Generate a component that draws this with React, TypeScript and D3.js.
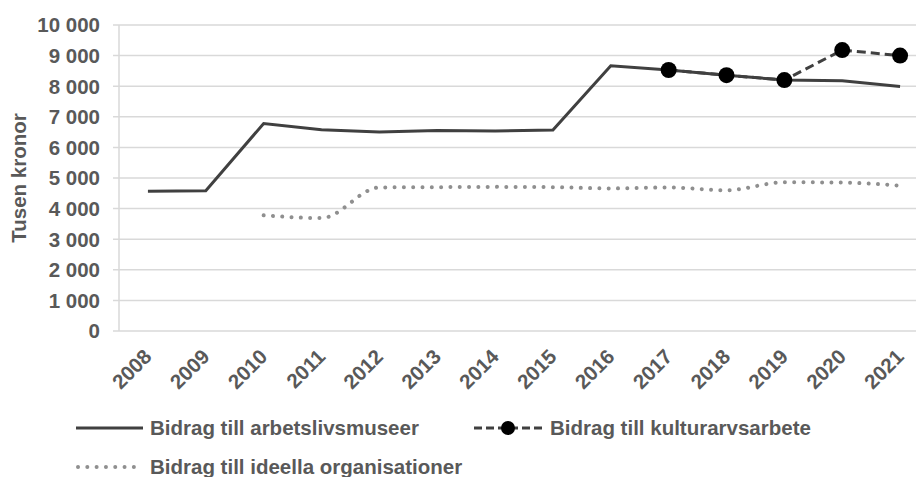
import React, { useEffect, useRef } from 'react';
import * as d3 from 'd3';

const years = ['2008', '2009', '2010', '2011', '2012', '2013', '2014', '2015', '2016', '2017', '2018', '2019', '2020', '2021'];
const arbetsliv = [4570, 4580, 6780, 6580, 6500, 6550, 6540, 6570, 8670, 8530, 8360, 8200, 8180, 7990];
const kulturarv = [null, null, null, null, null, null, null, null, null, 8530, 8360, 8200, 9180, 9000];
const ideella = [null, null, 3780, 3690, 4690, 4700, 4710, 4700, 4660, 4690, 4600, 4860, 4850, 4750];
const yTicks = [0, 1000, 2000, 3000, 4000, 5000, 6000, 7000, 8000, 9000, 10000];
const legendLabels = ['Bidrag till arbetslivsmuseer', 'Bidrag till kulturarvsarbete', 'Bidrag till ideella organisationer'];

type Pt = { year: string; v: number };

const App = () => {
  const ref = useRef<SVGSVGElement>(null);

  useEffect(() => {
    const svg = d3.select(ref.current);
    svg.selectAll('*').remove();

    const width = 916;
    const font = 'Liberation Sans, Arial, sans-serif';
    const fontSize = 20.5;
    const textColor = '#595959';
    const gridColor = '#d9d9d9';

    const x = d3.scalePoint<string>().domain(years).range([119, 929]).padding(0.5);
    const y = d3.scaleLinear().domain([0, 10000]).range([331, 25]);

    // gridlines + axis line
    svg
      .append('g')
      .selectAll('line')
      .data(yTicks)
      .join('line')
      .attr('x1', 113)
      .attr('x2', width)
      .attr('y1', (d) => y(d))
      .attr('y2', (d) => y(d))
      .attr('stroke', gridColor)
      .attr('stroke-width', 1.5);

    svg
      .append('line')
      .attr('x1', 119)
      .attr('x2', 119)
      .attr('y1', y(10000))
      .attr('y2', y(0))
      .attr('stroke', gridColor)
      .attr('stroke-width', 1.5);

    const styleText = (sel: any) =>
      sel.attr('font-family', font).attr('font-weight', 'bold').attr('font-size', fontSize).attr('fill', textColor);

    // y tick labels
    svg
      .append('g')
      .selectAll('text')
      .data(yTicks)
      .join('text')
      .attr('x', 100)
      .attr('y', (d) => y(d))
      .attr('dy', '0.36em')
      .attr('text-anchor', 'end')
      .call(styleText)
      .text((d) => d3.format(',')(d).replace(/,/g, ' '));

    // x tick labels
    svg
      .append('g')
      .selectAll('text')
      .data(years)
      .join('text')
      .attr('transform', (d) => `translate(${(x(d) as number) + 5}, 358) rotate(-45)`)
      .attr('text-anchor', 'end')
      .call(styleText)
      .text((d) => d);

    // y title
    svg
      .append('text')
      .attr('transform', `translate(26, ${(y(0) + y(10000)) / 2}) rotate(-90)`)
      .attr('text-anchor', 'middle')
      .call(styleText)
      .text('Tusen kronor');

    const pts = (vals: (number | null)[]) =>
      vals.map((v, i) => ({ year: years[i], v })).filter((d) => d.v !== null) as Pt[];

    const line = d3
      .line<Pt>()
      .x((d) => x(d.year) as number)
      .y((d) => y(d.v));

    // ideella (smoothed, dotted)
    svg
      .append('path')
      .attr('d', d3.line<Pt>().x((d) => x(d.year) as number).y((d) => y(d.v)).curve(d3.curveMonotoneX)(pts(ideella)))
      .attr('fill', 'none')
      .attr('stroke', '#8f8f8f')
      .attr('stroke-width', 4)
      .attr('stroke-linecap', 'round')
      .attr('stroke-dasharray', '0.01 9.3');

    // arbetsliv (solid)
    svg
      .append('path')
      .attr('d', line(pts(arbetsliv)))
      .attr('fill', 'none')
      .attr('stroke', '#404040')
      .attr('stroke-width', 3);

    // kulturarv (dashed with markers)
    const kult = pts(kulturarv);
    svg
      .append('path')
      .attr('d', line(kult))
      .attr('fill', 'none')
      .attr('stroke', '#404040')
      .attr('stroke-width', 3)
      .attr('stroke-dasharray', '9 5');

    svg
      .append('g')
      .selectAll('circle')
      .data(kult)
      .join('circle')
      .attr('cx', (d) => x(d.year) as number)
      .attr('cy', (d) => y(d.v))
      .attr('r', 8)
      .attr('fill', '#000');

    // legend
    const legend = svg.append('g');

    legend.append('line').attr('x1', 76).attr('x2', 143).attr('y1', 428).attr('y2', 428).attr('stroke', '#404040').attr('stroke-width', 3);
    legend.append('text').attr('x', 150).attr('y', 435).call(styleText).text(legendLabels[0]);

    legend
      .append('line')
      .attr('x1', 474)
      .attr('x2', 544)
      .attr('y1', 428)
      .attr('y2', 428)
      .attr('stroke', '#404040')
      .attr('stroke-width', 3)
      .attr('stroke-dasharray', '8 4');
    legend.append('circle').attr('cx', 508).attr('cy', 428).attr('r', 7).attr('fill', '#000');
    legend.append('text').attr('x', 550).attr('y', 435).call(styleText).text(legendLabels[1]);

    legend
      .append('line')
      .attr('x1', 78)
      .attr('x2', 136)
      .attr('y1', 467)
      .attr('y2', 467)
      .attr('stroke', '#8f8f8f')
      .attr('stroke-width', 4)
      .attr('stroke-linecap', 'round')
      .attr('stroke-dasharray', '0.01 9.3');
    legend.append('text').attr('x', 150).attr('y', 474).call(styleText).text(legendLabels[2]);
  }, []);

  return (
    <svg
      ref={ref}
      width={916}
      height={477}
      style={{ position: 'absolute', left: 0, top: 0, background: '#fff' }}
    />
  );
};

export default App;
